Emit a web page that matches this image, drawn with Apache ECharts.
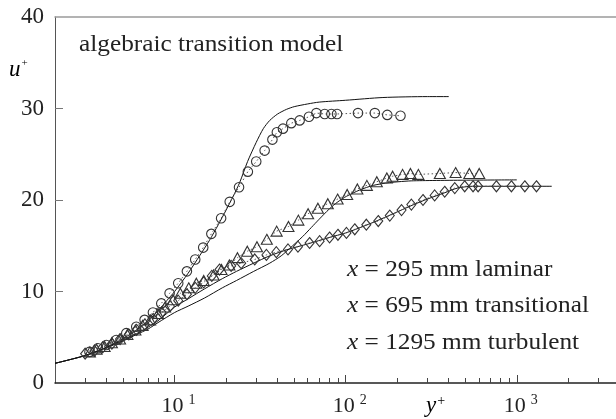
<!DOCTYPE html>
<html>
<head>
<meta charset="utf-8">
<script src="https://cdn.jsdelivr.net/npm/echarts@6/dist/echarts.min.js"></script>
<style>
  html, body { margin: 0; padding: 0; background: #fff; }
  #chart { width: 616px; height: 419px; }
</style>
</head>
<body>
<div id="chart"></div>
<script>
// Measured velocity profiles, x = 295 mm (laminar)
const laminarYPlus = [3.18, 3.56, 3.99, 4.56, 5.22, 5.97, 6.68, 7.47, 8.36, 9.35, 10.5, 11.8, 13.2, 14.7, 16.4, 18.7, 21.0, 23.8, 26.8, 30.0, 33.6, 37.3, 39.6, 43.0, 48.1, 53.8, 61.0, 67.4, 75.4, 82.5, 89.0, 118, 148, 175, 209];
const laminarUPlus = [3.4, 3.8, 4.15, 4.7, 5.45, 6.15, 6.9, 7.7, 8.7, 9.8, 10.9, 12.2, 13.5, 14.8, 16.3, 18.0, 19.8, 21.4, 23.1, 24.2, 25.4, 26.6, 27.4, 27.8, 28.4, 28.7, 29.1, 29.5, 29.4, 29.4, 29.4, 29.5, 29.5, 29.3, 29.2];

// x = 695 mm (transitional)
const transYPlus = [3.2, 3.5, 3.9, 4.3, 4.8, 5.3, 5.9, 6.5, 7.2, 8.0, 8.8, 9.8, 10.8, 12.1, 13.4, 14.8, 16.9, 18.8, 20.9, 23.3, 26.6, 30.3, 34.6, 39.5, 46.3, 52.9, 60.3, 68.8, 78.6, 89.7, 102, 117, 133, 152, 174, 188, 215, 239, 266, 355, 439, 528, 603];
const transUPlus = [3.4, 3.7, 4.0, 4.4, 4.8, 5.3, 5.8, 6.3, 6.9, 7.6, 8.3, 9.1, 9.8, 10.4, 10.9, 11.2, 11.8, 12.4, 12.9, 13.7, 14.4, 14.9, 15.7, 16.6, 17.1, 17.8, 18.5, 19.1, 19.6, 20.1, 20.6, 21.2, 21.6, 22.0, 22.4, 22.6, 22.8, 22.9, 22.8, 22.9, 23.0, 22.9, 22.9];

// x = 1295 mm (turbulent)
const turbYPlus = [3.0, 3.4, 3.8, 4.3, 4.8, 5.4, 6.0, 6.7, 7.5, 8.4, 9.4, 10.5, 11.8, 13.2, 14.8, 16.5, 18.3, 21.4, 24.5, 29.4, 34.4, 39.3, 46.0, 52.6, 61.5, 70.4, 80.5, 90.1, 101, 113, 132, 155, 181, 212, 242, 283, 331, 379, 434, 496, 555, 594, 760, 930, 1114, 1303];
const turbUPlus = [3.2, 3.5, 3.9, 4.3, 4.8, 5.3, 5.8, 6.4, 7.0, 7.7, 8.4, 9.0, 9.7, 10.4, 11.0, 11.7, 12.4, 12.8, 13.1, 13.5, 14.0, 14.3, 14.6, 14.9, 15.3, 15.5, 15.9, 16.2, 16.4, 16.8, 17.3, 17.7, 18.3, 18.9, 19.5, 20.0, 20.5, 20.9, 21.3, 21.5, 21.5, 21.5, 21.5, 21.5, 21.5, 21.5];

// Algebraic transition model predictions
const modelLamYPlus = [2, 3, 4, 5, 6, 7, 8, 9, 10, 12, 14, 16, 18, 20, 22, 24, 26.7, 30, 33, 36, 40, 45, 50, 60, 70, 100, 165, 300, 400];
const modelLamUPlus = [2.15, 3.0, 3.9, 4.85, 5.8, 6.8, 7.9, 9.0, 10.0, 12.0, 13.9, 15.6, 17.3, 18.9, 20.4, 21.9, 24.2, 26.3, 27.8, 28.7, 29.4, 29.9, 30.2, 30.5, 30.7, 30.9, 31.2, 31.3, 31.3];

const modelTransYPlus = [2, 3, 4, 5, 6, 7, 8, 10, 12, 15, 19, 23, 29, 36, 42, 47, 56, 63, 70, 80, 90, 101, 121, 145, 180, 250, 1000];
const modelTransUPlus = [2.15, 3.0, 3.85, 4.6, 5.3, 5.9, 6.6, 7.7, 8.4, 9.3, 10.4, 11.2, 12.2, 13.1, 13.9, 14.7, 16.0, 17.0, 17.9, 19.0, 19.8, 20.4, 21.1, 21.6, 21.9, 22.1, 22.2];

const modelTurbYPlus = [2, 3, 4, 5, 6, 7, 8, 10, 12, 15, 19, 23, 29, 36, 46, 60, 80, 100, 130, 160, 200, 250, 300, 380, 450, 550, 1600];
const modelTurbUPlus = [2.15, 3.0, 3.9, 4.7, 5.4, 6.1, 6.8, 8.3, 9.2, 10.3, 11.4, 12.2, 13.1, 13.9, 14.6, 15.2, 15.9, 16.4, 17.2, 17.9, 18.7, 19.5, 20.1, 20.8, 21.3, 21.5, 21.5];

// Axis ticks and labels
const xMajorTicks = [10, 100, 1000];
const xMinorTicks = [3, 4, 5, 6, 7, 8, 9, 20, 30, 40, 50, 60, 70, 80, 90, 200, 300, 400, 500, 600, 700, 800, 900, 2000, 3000];
const yTicks = [0, 10, 20, 30, 40];
const legendLines = [
  '{i|x} = 295 mm laminar',
  '{i|x} = 695 mm transitional',
  '{i|x} = 1295 mm turbulent'
];

const SERIF = '"Liberation Serif", "Times New Roman", serif';
const TEXT_STRETCH = 1.1;
const zip = (xs, ys) => xs.map((v, i) => [v, ys[i]]);

const chart = echarts.init(document.getElementById('chart'), null, { renderer: 'canvas' });

const X_MIN = 2, X_MAX = 3800;

function logAxis(extra) {
  return Object.assign({
    type: 'log',
    logBase: 10,
    min: X_MIN,
    max: X_MAX,
    gridIndex: 0,
    splitLine: { show: false },
    minorTick: { show: false },
    minorSplitLine: { show: false }
  }, extra);
}

const modelLine = (name, xs, ys) => ({
  name,
  type: 'line',
  data: zip(xs, ys),
  showSymbol: false,
  symbol: 'none',
  smooth: 0.25,
  lineStyle: { color: '#111', width: 1 },
  z: 2,
  silent: true
});

const measured = (name, xs, ys, symbol, size) => ({
  name,
  type: 'line',
  data: zip(xs, ys),
  symbol,
  symbolSize: size,
  showSymbol: true,
  itemStyle: { color: 'rgba(255,255,255,0)', borderColor: '#333', borderWidth: 1.1 },
  lineStyle: { color: '#555', width: 1, type: [1.5, 2.5] },
  z: 3,
  silent: true
});

chart.setOption({
  animation: false,
  backgroundColor: '#fff',
  grid: { left: 55, top: 17, right: 0, bottom: 36, containLabel: false },
  xAxis: [
    logAxis({
      position: 'bottom',
      axisLine: { show: true, lineStyle: { color: '#222', width: 1.5 } },
      axisTick: { show: true, inside: true, length: 8, customValues: xMajorTicks, lineStyle: { color: '#444', width: 1 } },
      axisLabel: {
        show: true,
        customValues: xMajorTicks,
        margin: 10,
        formatter: v => '{b|10}{s|' + Math.round(Math.log10(v)) + '}',
        rich: {
          b: { fontFamily: SERIF, fontSize: 22, color: '#222', padding: [0, 0, 0, 8] },
          s: { fontFamily: SERIF, fontSize: 14, color: '#222', padding: [0, 0, 12, 5] }
        }
      }
    }),
    logAxis({
      position: 'bottom',
      axisLine: { show: false },
      axisTick: { show: true, inside: true, length: 5, customValues: xMinorTicks, lineStyle: { color: '#444', width: 1 } },
      axisLabel: { show: false }
    }),
    logAxis({
      position: 'top',
      axisLine: { show: true, lineStyle: { color: '#9a9a9a', width: 1.5 } },
      axisTick: { show: false },
      axisLabel: { show: false }
    })
  ],
  yAxis: {
    type: 'value',
    min: 0,
    max: 40,
    interval: 10,
    axisLine: { show: true, lineStyle: { color: '#555', width: 1 } },
    axisTick: { show: true, inside: true, length: 8, customValues: yTicks.slice(1, -1), lineStyle: { color: '#777' } },
    axisLabel: { fontFamily: SERIF, fontSize: 23, color: '#222', margin: 11 },
    splitLine: { show: false }
  },
  series: [
    modelLine('model laminar', modelLamYPlus, modelLamUPlus),
    modelLine('model transitional', modelTransYPlus, modelTransUPlus),
    modelLine('model turbulent', modelTurbYPlus, modelTurbUPlus),
    measured('x = 295 mm laminar', laminarYPlus, laminarUPlus, 'circle', 9.5),
    measured('x = 695 mm transitional', transYPlus, transUPlus, 'triangle', [11, 10]),
    measured('x = 1295 mm turbulent', turbYPlus, turbUPlus, 'diamond', [9, 11])
  ],
  graphic: [
    {
      type: 'text', left: 79, top: 33, scaleX: TEXT_STRETCH,
      style: { text: 'algebraic transition model', font: '23px ' + SERIF, fill: '#222' }
    },
    {
      type: 'text', left: 9, top: 58,
      style: {
        text: '{i|u}{s|+}',
        rich: {
          i: { fontFamily: SERIF, fontStyle: 'italic', fontSize: 23, color: '#222' },
          s: { fontFamily: SERIF, fontSize: 11, color: '#333', padding: [0, 0, 12, 1] }
        }
      }
    },
    {
      type: 'text', left: 426, top: 394,
      style: {
        text: '{i|y}{s|+}',
        rich: {
          i: { fontFamily: SERIF, fontStyle: 'italic', fontSize: 23, color: '#222' },
          s: { fontFamily: SERIF, fontSize: 14, color: '#222', padding: [0, 0, 10, 1] }
        }
      }
    },
    ...legendLines.map((t, k) => ({
      type: 'text', left: 347, top: 258 + k * 36.5, scaleX: TEXT_STRETCH,
      style: {
        text: t,
        rich: {
          i: { fontFamily: SERIF, fontStyle: 'italic', fontSize: 23, color: '#222' }
        },
        font: '23px ' + SERIF,
        fill: '#222'
      }
    }))
  ]
});
</script>
</body>
</html>
